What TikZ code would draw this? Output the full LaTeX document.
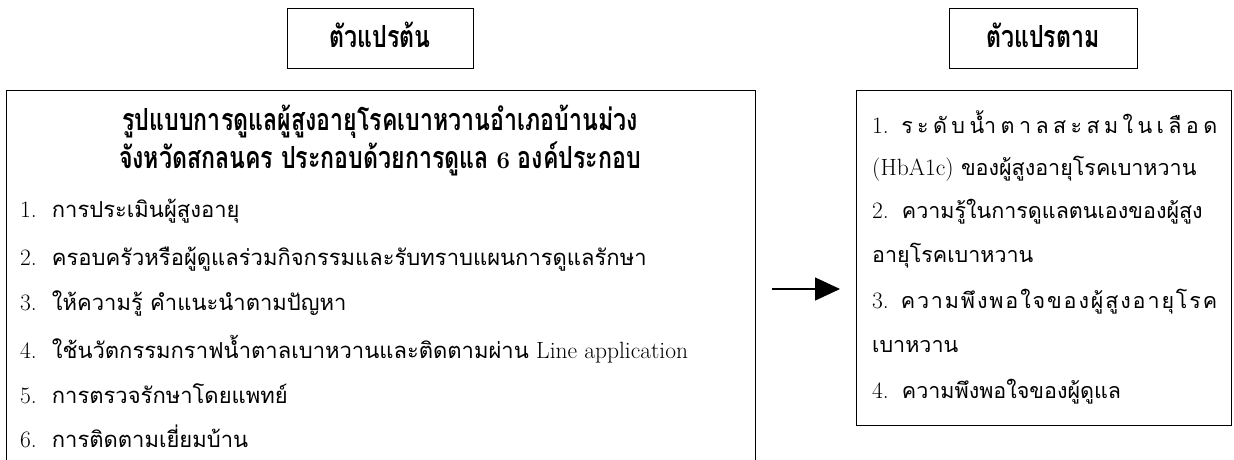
\documentclass[tikz,border=0pt]{standalone}
\usepackage{fontspec}
\newfontfamily\thai[Script=Thai]{Loma}
\newfontfamily\thaic[Script=Thai,FakeStretch=0.76]{Loma}
\usetikzlibrary{arrows.meta,calc}
\newcommand{\ls}{\rmfamily\mdseries\fontsize{23.5}{26}\selectfont}
\newcommand{\ts}{\thai\fontsize{22}{26}\selectfont}
\newcommand{\tsr}{\thai\fontsize{21.5}{26}\selectfont}
\newcommand{\hs}{\thaic\bfseries\fontsize{30.5}{34}\selectfont}
\newcommand{\num}[1]{{\ls #1}\hspace{15pt}}
\newcommand{\numr}[1]{{\ls #1}\hspace{13pt}}
\tikzset{
  box/.style={draw, line width=0.9pt, inner sep=0pt},
  txt/.style={anchor=base west, inner sep=0pt, font=\ts},
  txtr/.style={anchor=base west, inner sep=0pt, font=\tsr},
  ttl/.style={anchor=base, inner sep=0pt, font=\hs},
}
\begin{document}
\begin{tikzpicture}[x=1pt,y=-1pt]
\useasboundingbox (0,0) rectangle (1234,459);
% header boxes
\node[box, minimum width=186pt, minimum height=60pt] (iv) at (380,38) {};
\node[ttl] (ivt) at (380,47) {ตัวแปรต้น};
\node[box, minimum width=188pt, minimum height=60pt] (dv) at (1043,38) {};
\node[ttl] (dvt) at (1043,47) {ตัวแปรตาม};
% left box
\node[box, anchor=north west, minimum width=749pt, minimum height=390pt] (lb) at (6,90) {};
\node[ttl] (t1) at (380,130) {รูปแบบการดูแลผู้สูงอายุโรคเบาหวานอำเภอบ้านม่วง};
\node[ttl] (t2) at (380,168) {จังหวัดสกลนคร ประกอบด้วยการดูแล {\rmfamily\bfseries\fontsize{24}{26}\selectfont 6} องค์ประกอบ};
\node[txt] (i1) at (20,217) {\num{1.}การประเมินผู้สูงอายุ};
\node[txt] (i2) at (20,265) {\num{2.}ครอบครัวหรือผู้ดูแลร่วมกิจกรรมและรับทราบแผนการดูแลรักษา};
\node[txt] (i3) at (20,310) {\num{3.}ให้ความรู้ คำแนะนำตามปัญหา};
\node[txt] (i4) at (20,358) {\num{4.}ใช้นวัตกรรมกราฟน้ำตาลเบาหวานและติดตามผ่าน {\ls Line application}};
\node[txt] (i5) at (20,403) {\num{5.}การตรวจรักษาโดยแพทย์};
\node[txt] (i6) at (20,447) {\num{6.}การติดตามเยี่ยมบ้าน};
% right box
\node[box, anchor=north west, minimum width=375pt, minimum height=335pt] (rb) at (856,90) {};
\node[txtr] (r1) at (872,133) {\makebox[345pt][s]{{\ls 1.}\hspace{8pt}\hfil ร\hfil ะ\hfil ดั\hfil บ\hfil น้ำ\hfil ต\hfil า\hfil ล\hfil ส\hfil ะ\hfil ส\hfil ม\hfil ใ\hfil น\hfil เ\hfil ลื\hfil อ\hfil ด}};
\node[txtr] (r2) at (872,175) {{\ls (HbA1c)} ของผู้สูงอายุโรคเบาหวาน};
\node[txtr] (r3) at (872,218) {\numr{2.}ความรู้ในการดูแลตนเองของผู้สูง};
\node[txtr] (r4) at (872,262) {อายุโรคเบาหวาน};
\node[txtr] (r5) at (872,308) {\makebox[345pt][s]{{\ls 3.}\hspace{10pt}\hfil ค\hfil ว\hfil า\hfil ม\hfil พึ\hfil ง\hfil พ\hfil อ\hfil ใ\hfil จ\hfil ข\hfil อ\hfil ง\hfil ผู้\hfil สู\hfil ง\hfil อ\hfil า\hfil ยุ\hfil โ\hfil ร\hfil ค}};
\node[txtr] (r6) at (872,352) {เบาหวาน};
\node[txtr] (r7) at (872,398) {\numr{4.}ความพึงพอใจของผู้ดูแล};
% arrow
\draw[line width=1.2pt, -{Triangle[length=25pt,width=23pt]}] ($(lb.north east)+(16,199)$) -- ($(rb.north west)+(-16,199)$);
\end{tikzpicture}
\end{document}
